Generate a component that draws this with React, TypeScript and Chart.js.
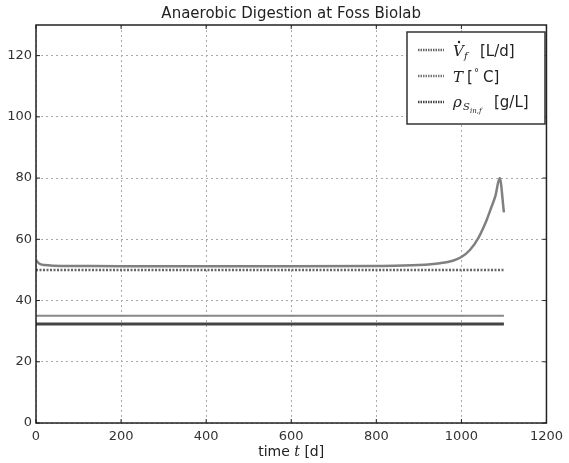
import React, { useEffect, useRef } from "react";
import { Chart, registerables } from "chart.js";

Chart.register(...registerables);

const chartTitle = "Anaerobic Digestion at Foss Biolab";
const xTicks = [0, 200, 400, 600, 800, 1000, 1200];
const yTicks = [0, 20, 40, 60, 80, 100, 120];

const curveDays = [0, 5, 10, 20, 40, 100, 200, 400, 600, 800, 900, 950, 980, 1000, 1020, 1040, 1060, 1070, 1080, 1090, 1100];
const curveValues = [53.2, 52.4, 51.9, 51.6, 51.4, 51.3, 51.2, 51.2, 51.2, 51.3, 51.6, 52.2, 53.0, 54.2, 56.5, 60.5, 66.5, 70.3, 74.2, 80, 68.8];

const constDays = [0, 1100];
const feedRate = [50, 50];
const temperature = [35, 35];
const substrate = [32.3, 32.3];

const toPts = (xs: number[], ys: number[]) => xs.map((x, i) => ({ x, y: ys[i] }));

const framePlugin = {
  id: "frame",
  afterDraw(chart: any) {
    const { ctx, chartArea: a } = chart;
    ctx.save();
    ctx.strokeStyle = "#222";
    ctx.lineWidth = 1.5;
    ctx.strokeRect(a.left, a.top, a.right - a.left, a.bottom - a.top);
    const xs = chart.scales.x, ys = chart.scales.y;
    ctx.lineWidth = 1;
    for (const v of xTicks) {
      const px = xs.getPixelForValue(v);
      ctx.beginPath();
      ctx.moveTo(px, a.bottom); ctx.lineTo(px, a.bottom - 4);
      ctx.moveTo(px, a.top); ctx.lineTo(px, a.top + 4);
      ctx.stroke();
    }
    for (const v of yTicks) {
      const py = ys.getPixelForValue(v);
      ctx.beginPath();
      ctx.moveTo(a.left, py); ctx.lineTo(a.left + 4, py);
      ctx.moveTo(a.right, py); ctx.lineTo(a.right - 4, py);
      ctx.stroke();
    }
    ctx.fillStyle = "#222";
    ctx.font = "15px 'DejaVu Sans'";
    ctx.textAlign = "center";
    ctx.textBaseline = "middle";
    ctx.fillText(chartTitle, (a.left + a.right) / 2, 14);
    const cx = (a.left + a.right) / 2;
    const p1 = "time ", p2 = "t", p3 = " [d]";
    ctx.font = "14px 'DejaVu Sans'";
    const w1 = ctx.measureText(p1).width, w3 = ctx.measureText(p3).width;
    ctx.font = "italic 14px 'DejaVu Serif'";
    const w2 = ctx.measureText(p2).width;
    const x0 = cx - (w1 + w2 + w3) / 2;
    ctx.textAlign = "left";
    ctx.textBaseline = "alphabetic";
    const by = 456;
    ctx.font = "14px 'DejaVu Sans'";
    ctx.fillText(p1, x0, by);
    ctx.font = "italic 14px 'DejaVu Serif'";
    ctx.fillText(p2, x0 + w1, by);
    ctx.font = "14px 'DejaVu Sans'";
    ctx.fillText(p3, x0 + w1 + w2, by);

    const L = 407, T = 32, R = 545, B = 124;
    ctx.fillStyle = "#fff";
    ctx.fillRect(L, T, R - L, B - T);
    ctx.strokeStyle = "#333";
    ctx.lineWidth = 1.5;
    ctx.strokeRect(L, T, R - L, B - T);
    const rows = [50, 76, 102];
    const sampleColors = ["#666", "#777", "#444"];
    rows.forEach((ry, i) => {
      ctx.save();
      ctx.strokeStyle = sampleColors[i];
      ctx.lineWidth = 2.5;
      ctx.setLineDash([1.5, 1]);
      ctx.beginPath();
      ctx.moveTo(418, ry);
      ctx.lineTo(444, ry);
      ctx.stroke();
      ctx.restore();
    });
    ctx.fillStyle = "#222";
    ctx.textBaseline = "alphabetic";
    let b = rows[0] + 6;
    ctx.font = "italic 15px 'DejaVu Serif'";
    ctx.fillText("V", 453, b);
    ctx.beginPath();
    ctx.arc(459, b - 14, 1.2, 0, Math.PI * 2);
    ctx.fill();
    ctx.font = "italic 10px 'DejaVu Serif'";
    ctx.fillText("f", 464, b + 3);
    ctx.font = "15px 'DejaVu Sans'";
    ctx.fillText("[L/d]", 480, b);
    b = rows[1] + 6;
    ctx.font = "italic 15px 'DejaVu Serif'";
    ctx.fillText("T", 453, b);
    ctx.font = "15px 'DejaVu Sans'";
    ctx.fillText("[", 467, b);
    ctx.font = "10px 'DejaVu Sans'";
    ctx.fillText("°", 474, b - 6);
    ctx.font = "15px 'DejaVu Sans'";
    ctx.fillText("C]", 483, b);
    b = rows[2] + 5;
    ctx.font = "italic 15px 'DejaVu Serif'";
    ctx.fillText("ρ", 453, b);
    ctx.font = "italic 10px 'DejaVu Serif'";
    ctx.fillText("S", 463, b + 3);
    ctx.font = "italic 7px 'DejaVu Serif'";
    ctx.fillText("in,f", 470, b + 6);
    ctx.font = "15px 'DejaVu Sans'";
    ctx.fillText("[g/L]", 494, b);
    ctx.restore();
  },
};

export default function App() {
  const ref = useRef<HTMLCanvasElement>(null);
  useEffect(() => {
    if (!ref.current) return;
    const chart = new Chart(ref.current, {
      type: "line",
      data: {
        datasets: [
          {
            label: "Vf",
            data: toPts(constDays, feedRate),
            borderColor: "#666",
            borderWidth: 2.5,
            borderDash: [2, 1.5],
            pointRadius: 0,
          },
          {
            label: "T",
            data: toPts(constDays, temperature),
            borderColor: "#888",
            borderWidth: 2,
            pointRadius: 0,
          },
          {
            label: "rho",
            data: toPts(constDays, substrate),
            borderColor: "#444",
            borderWidth: 3,
            pointRadius: 0,
          },
          {
            label: "curve",
            data: toPts(curveDays, curveValues),
            borderColor: "#808080",
            borderWidth: 2.5,
            pointRadius: 0,
            cubicInterpolationMode: "monotone",
          },
        ],
      },
      options: {
        responsive: false,
        animation: false,
        layout: { padding: { top: 25, right: 19, left: 0, bottom: 0 } },
        plugins: { legend: { display: false }, tooltip: { enabled: false }, title: { display: false } },
        scales: {
          x: {
            type: "linear",
            min: 0,
            max: 1200,
            afterBuildTicks: (s: any) => { s.ticks = xTicks.map((v) => ({ value: v })); },
            afterFit: (s: any) => { s.height = 40; },
            ticks: {
              font: { family: "DejaVu Sans", size: 13 },
              color: "#333",
              padding: 6,
              maxRotation: 0,
              callback: (v: any) => String(v),
            },
            grid: { color: "#aaa", lineWidth: 1, drawTicks: false },
            border: { display: false, dash: [2, 3] },
          },
          y: {
            min: 0,
            max: 130,
            afterBuildTicks: (s: any) => { s.ticks = yTicks.map((v) => ({ value: v })); },
            afterFit: (s: any) => { s.width = 36; },
            ticks: { font: { family: "DejaVu Sans", size: 13 }, color: "#333", padding: 4, callback: (v: any) => String(v) },
            grid: { color: "#aaa", lineWidth: 1, drawTicks: false },
            border: { display: false, dash: [2, 3] },
          },
        },
      },
      plugins: [framePlugin],
    } as any);
    return () => chart.destroy();
  }, []);
  return (
    <div style={{ position: "absolute", left: 0, top: 0, width: 569, height: 463, background: "#fff" }}>
      <canvas ref={ref} width={569} height={463} style={{ display: "block", width: 569, height: 463 }} />
    </div>
  );
}
